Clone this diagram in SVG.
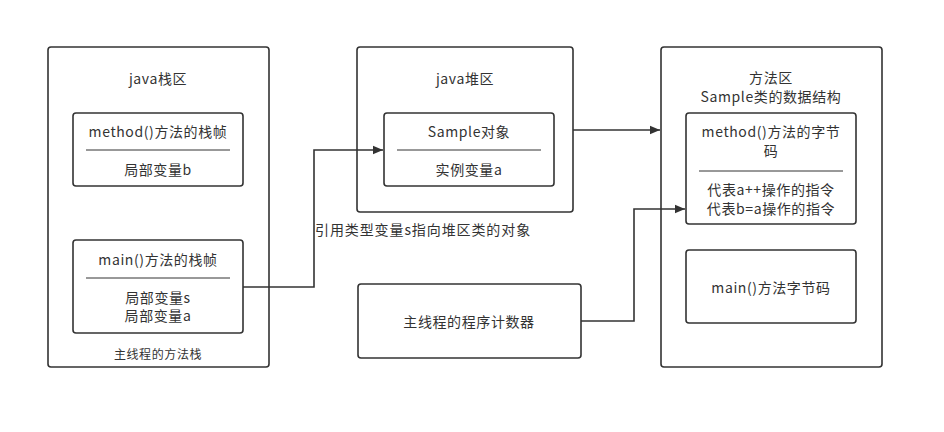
<svg xmlns="http://www.w3.org/2000/svg" width="944" height="432" viewBox="0 0 944 432">
<style>
.box{fill:#fff;stroke:#333;stroke-width:1.6}
.sep{stroke:#333;stroke-width:1}
.t{font-family:"Noto Sans CJK SC","Microsoft YaHei",sans-serif;font-size:14px;letter-spacing:0.6px;fill:#333;text-anchor:middle;dominant-baseline:central}
.l{text-anchor:start;letter-spacing:0.9px}
.c{fill:none;stroke:#333;stroke-width:1.6}
</style>
<defs>
<marker id="arr" viewBox="0 0 10 10" refX="10" refY="5" markerWidth="10" markerHeight="10" markerUnits="userSpaceOnUse" orient="auto">
<path d="M0,0.8 L10,5 L0,9.2 Z" fill="#333"/>
</marker>
</defs>
<rect width="944" height="432" fill="#fff"/>
<g id="stack">
<rect class="box" x="48" y="47" width="221" height="320" rx="3"/>
<text class="t" x="158" y="78">java栈区</text>
<text class="t" x="158" y="353" style="font-size:12px">主线程的方法栈</text>
</g>
<g id="method-frame">
<rect class="box" x="73" y="113" width="170" height="73" rx="3"/>
<text class="t" x="158" y="131">method()方法的栈帧</text>
<line class="sep" x1="86" y1="150" x2="230" y2="150"/>
<text class="t" x="158" y="169">局部变量b</text>
</g>
<g id="main-frame">
<rect class="box" x="73" y="240" width="170" height="93" rx="3"/>
<text class="t" x="158" y="259">main()方法的栈帧</text>
<line class="sep" x1="86" y1="278" x2="230" y2="278"/>
<text class="t" x="158" y="297">局部变量s</text>
<text class="t" x="158" y="315">局部变量a</text>
</g>
<g id="heap">
<rect class="box" x="357" y="47" width="216" height="165" rx="3"/>
<text class="t" x="465" y="78">java堆区</text>
</g>
<g id="sample-object">
<rect class="box" x="384" y="113" width="170" height="73" rx="3"/>
<text class="t" x="469" y="131">Sample对象</text>
<line class="sep" x1="397" y1="150" x2="541" y2="150"/>
<text class="t" x="469" y="169">实例变量a</text>
</g>
<g id="pc">
<rect class="box" x="358" y="284" width="223" height="74" rx="3"/>
<text class="t" x="469" y="321">主线程的程序计数器</text>
</g>
<g id="method-area">
<rect class="box" x="661" y="47" width="221" height="320" rx="3"/>
<text class="t" x="771" y="77">方法区</text>
<text class="t" x="771" y="96">Sample类的数据结构</text>
</g>
<g id="method-bytecode">
<rect class="box" x="686" y="113" width="170" height="111" rx="3"/>
<text class="t" x="771" y="131">method()方法的字节</text>
<text class="t" x="771" y="150">码</text>
<line class="sep" x1="699" y1="171" x2="843" y2="171"/>
<text class="t" x="771" y="189">代表a++操作的指令</text>
<text class="t" x="771" y="208">代表b=a操作的指令</text>
</g>
<g id="main-bytecode">
<rect class="box" x="686" y="250" width="170" height="73" rx="3"/>
<text class="t" x="771" y="287">main()方法字节码</text>
</g>
<g id="connectors">
<polyline class="c" points="243,287 314,287 314,150 383,150" marker-end="url(#arr)"/>
<text class="t l" x="315" y="229">引用类型变量s指向堆区类的对象</text>
<line class="c" x1="573" y1="130" x2="660" y2="130" marker-end="url(#arr)"/>
<polyline class="c" points="581,321 634,321 634,209 685,209" marker-end="url(#arr)"/>
</g>
</svg>
